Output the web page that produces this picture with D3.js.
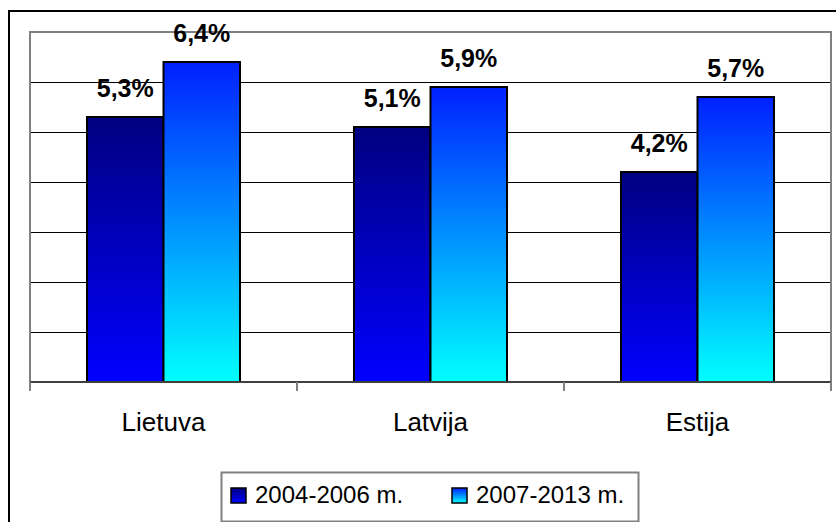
<!DOCTYPE html>
<meta charset="utf-8">
<style>
body { margin: 0; background: #fff; }
svg { display: block; }
.lbl { font: bold 25px "Liberation Sans", Arial, sans-serif; fill: #000; }
.cat { font: 26px "Liberation Sans", Arial, sans-serif; fill: #000; }
.leg { font: 24px "Liberation Sans", Arial, sans-serif; fill: #000; }
</style>
<body>
<script src="https://cdnjs.cloudflare.com/ajax/libs/d3/7.8.5/d3.min.js"></script>
<script>
// data
var categories = ["Lietuva", "Latvija", "Estija"];
var seriesNames = ["2004-2006 m.", "2007-2013 m."];
var values2004 = [5.3, 5.1, 4.2];
var values2007 = [6.4, 5.9, 5.7];
var valueLabels2004 = ["5,3%", "5,1%", "4,2%"];
var valueLabels2007 = ["6,4%", "5,9%", "5,7%"];
var gridTicks = [1, 2, 3, 4, 5, 6];

var W = 836, H = 522;
var plot = {left: 30, right: 831, top: 32, bottom: 382};

var svg = d3.select("body").append("svg")
    .attr("width", W)
    .attr("height", H);

// gradients like the old excel fill
var defs = svg.append("defs");
var grads = [
  {id: "g0", top: "#000080", bottom: "#0000ff"},
  {id: "g1", top: "#0020ff", bottom: "#00ffff"}
];
grads.forEach(function(g) {
  var lg = defs.append("linearGradient")
      .attr("id", g.id)
      .attr("x1", 0).attr("y1", 0).attr("x2", 0).attr("y2", 1);
  lg.append("stop").attr("offset", "0%").attr("stop-color", g.top);
  lg.append("stop").attr("offset", "100%").attr("stop-color", g.bottom);
});

// outer chart border (runs off the right and bottom)
svg.append("rect")
    .attr("x", 9).attr("y", 11)
    .attr("width", W).attr("height", H)
    .attr("fill", "none")
    .attr("stroke", "#000")
    .attr("stroke-width", 2);

var x0 = d3.scaleBand()
    .domain(categories)
    .range([plot.left, plot.right])
    .paddingInner(0);

var x1 = d3.scaleBand()
    .domain(seriesNames)
    .range([0, x0.bandwidth()])
    .paddingInner(0)
    .paddingOuter(0.745);

var y = d3.scaleLinear()
    .domain([0, 7])
    .range([plot.bottom, plot.top]);

// gridlines
svg.append("g")
  .selectAll("line")
  .data(gridTicks)
  .enter().append("line")
    .attr("x1", plot.left).attr("x2", plot.right)
    .attr("y1", function(d) { return Math.round(y(d)) + 0.5; })
    .attr("y2", function(d) { return Math.round(y(d)) + 0.5; })
    .attr("stroke", "#000")
    .attr("stroke-width", 1);

// plot area border (left, top, right) in grey
svg.append("path")
    .attr("d", "M" + plot.left + "," + plot.bottom + "V" + plot.top + "H" + plot.right + "V" + plot.bottom)
    .attr("fill", "none")
    .attr("stroke", "#808080")
    .attr("stroke-width", 2);

// bars
var rows = categories.map(function(c, i) {
  return {cat: c, vals: [
    {s: seriesNames[0], v: values2004[i], lab: valueLabels2004[i], fill: "url(#g0)"},
    {s: seriesNames[1], v: values2007[i], lab: valueLabels2007[i], fill: "url(#g1)"}
  ]};
});

var grp = svg.append("g").selectAll("g")
  .data(rows)
  .enter().append("g")
    .attr("transform", function(d) { return "translate(" + x0(d.cat) + ",0)"; });

grp.selectAll("rect")
  .data(function(d) { return d.vals; })
  .enter().append("rect")
    .attr("x", function(d) { return x1(d.s); })
    .attr("y", function(d) { return y(d.v); })
    .attr("width", x1.bandwidth())
    .attr("height", function(d) { return y(0) - y(d.v); })
    .attr("fill", function(d) { return d.fill; })
    .attr("stroke", "#000")
    .attr("stroke-width", 2);

grp.selectAll("text")
  .data(function(d) { return d.vals; })
  .enter().append("text")
    .attr("class", "lbl")
    .attr("x", function(d) { return x1(d.s) + x1.bandwidth() / 2; })
    .attr("y", function(d) { return y(d.v) - 20; })
    .attr("text-anchor", "middle")
    .text(function(d) { return d.lab; });

// x axis
var xAxis = svg.append("g")
    .attr("transform", "translate(0," + plot.bottom + ")");
xAxis.append("line")
    .attr("x1", plot.left).attr("x2", plot.right)
    .attr("stroke", "#404040")
    .attr("stroke-width", 2);
var bounds = categories.map(function(c) { return x0(c); }).concat([plot.right]);
xAxis.selectAll(".tk")
  .data(bounds)
  .enter().append("line")
    .attr("class", "tk")
    .attr("x1", function(d) { return d; }).attr("x2", function(d) { return d; })
    .attr("y1", 0).attr("y2", 9)
    .attr("stroke", "#808080")
    .attr("stroke-width", 2);
xAxis.selectAll(".cat")
  .data(categories)
  .enter().append("text")
    .attr("class", "cat")
    .attr("x", function(d) { return x0(d) + x0.bandwidth() / 2; })
    .attr("y", 49)
    .attr("text-anchor", "middle")
    .text(function(d) { return d; });

// legend
var legend = svg.append("g").attr("transform", "translate(221,472)");
legend.append("rect")
    .attr("x", 0.5).attr("y", 0.5)
    .attr("width", 417).attr("height", 49)
    .attr("fill", "#fff")
    .attr("stroke", "#808080")
    .attr("stroke-width", 2);
var legX = [10, 231];
var item = legend.selectAll(".item")
  .data(seriesNames)
  .enter().append("g")
    .attr("class", "item")
    .attr("transform", function(d, i) { return "translate(" + legX[i] + ",0)"; });
item.append("rect")
    .attr("x", 0).attr("y", 16)
    .attr("width", 15).attr("height", 15)
    .attr("fill", function(d, i) { return "url(#g" + i + ")"; })
    .attr("stroke", "#000")
    .attr("stroke-width", 1.5);
item.append("text")
    .attr("class", "leg")
    .attr("x", 24)
    .attr("y", 31)
    .text(function(d) { return d; });
</script>
</body>
